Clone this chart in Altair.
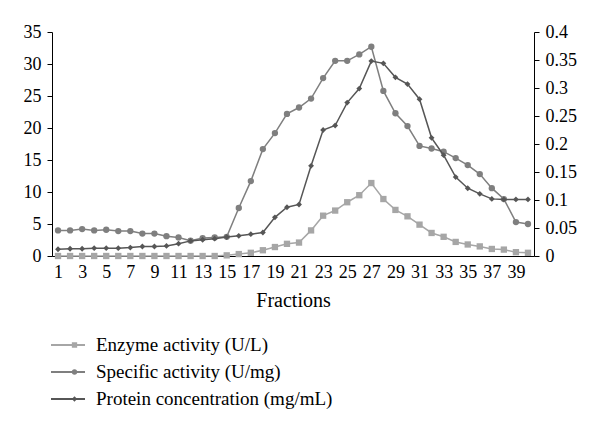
import altair as alt
import pandas as pd

fractions = list(range(1, 41))

enzyme_activity = [0.0, 0.0, 0.0, 0.0, 0.0, 0.0, 0.0, 0.0, 0.0, 0.0,
                   0.0, 0.0, 0.0, 0.0, 0.1, 0.3, 0.5, 0.9, 1.4, 1.9,
                   2.1, 4.0, 6.3, 7.1, 8.4, 9.5, 11.4, 8.9, 7.2, 6.2,
                   4.9, 3.6, 3.0, 2.2, 1.8, 1.5, 1.1, 1.0, 0.6, 0.5]

specific_activity = [4.0, 4.0, 4.2, 4.0, 4.1, 3.9, 3.9, 3.5, 3.5, 3.1,
                     2.9, 2.4, 2.8, 2.9, 3.0, 7.5, 11.7, 16.7, 19.2, 22.2,
                     23.2, 24.6, 27.8, 30.5, 30.5, 31.5, 32.7, 25.8, 22.3, 20.3,
                     17.2, 16.8, 16.3, 15.3, 14.2, 12.8, 10.6, 8.9, 5.3, 5.0]

protein_conc = [0.012, 0.013, 0.013, 0.014, 0.014, 0.014, 0.015, 0.017, 0.017, 0.018,
                0.022, 0.027, 0.029, 0.031, 0.034, 0.036, 0.039, 0.042, 0.069, 0.087,
                0.092, 0.161, 0.225, 0.233, 0.274, 0.299, 0.348, 0.344, 0.319, 0.307,
                0.280, 0.211, 0.180, 0.141, 0.121, 0.111, 0.102, 0.101, 0.101, 0.101]

series_names = ["Enzyme activity (U/L)", "Specific activity (U/mg)",
                "Protein concentration (mg/mL)"]
series_keys = ["a", "b", "c"]
series_colors = ["#a6a6a6", "#7f7f7f", "#565656"]
series_shapes = ["square", "circle", "diamond"]

x_labels = [1, 3, 5, 7, 9, 11, 13, 15, 17, 19, 21, 23, 25, 27, 29, 31, 33, 35, 37, 39]
left_ticks = [0, 5, 10, 15, 20, 25, 30, 35]
right_ticks = [0, 0.05, 0.1, 0.15, 0.2, 0.25, 0.3, 0.35, 0.4]

rows = []
for vals, name, key in zip([enzyme_activity, specific_activity, protein_conc],
                           series_names, series_keys):
    for f, v in zip(fractions, vals):
        rows.append({"frac": f, "series": name, "key": key, "value": v})
df = pd.DataFrame(rows)

FONT = "Liberation Serif"

x_enc = alt.X("frac:O", scale=alt.Scale(type="point", padding=0.5),
              axis=alt.Axis(values=x_labels, labelAngle=0, ticks=False,
                            labelPadding=7, titlePadding=9, title="Fractions"))

color_enc = alt.Color("series:N",
                      scale=alt.Scale(domain=series_names, range=series_colors),
                      legend=alt.Legend(title=None, orient="none", legendX=-2, legendY=304,
                                        symbolType="stroke", symbolSize=1156,
                                        symbolStrokeWidth=2, clipHeight=18, rowPadding=8,
                                        labelOffset=10, padding=0, labelLimit=500))
shape_legend = alt.Legend(title=None, orient="none", legendX=13, legendY=304,
                          symbolSize=28, clipHeight=18, rowPadding=8,
                          labelOpacity=0, padding=0, symbolStrokeWidth=0)
fill_enc = alt.Fill("key:N", scale=alt.Scale(domain=series_keys, range=series_colors),
                    legend=shape_legend)
shape_enc = alt.Shape("key:N", scale=alt.Scale(domain=series_keys, range=series_shapes),
                      legend=shape_legend)

y_left = alt.Y("value:Q", scale=alt.Scale(domain=[0, 35], nice=False),
               axis=alt.Axis(orient="left", values=left_ticks, title=None,
                             tickSize=5, labelPadding=6))
y_right = alt.Y("value:Q", scale=alt.Scale(domain=[0, 0.4], nice=False),
                axis=alt.Axis(orient="right", values=right_ticks, format="~g",
                              title=None, tickSize=5, labelPadding=6))

base_left = alt.Chart(df).transform_filter(alt.datum.key != "c")
base_right = alt.Chart(df).transform_filter(alt.datum.key == "c")

left = alt.layer(
    base_left.mark_line(strokeWidth=1.5).encode(x=x_enc, y=y_left, color=color_enc),
    base_left.mark_point(filled=True, size=40, opacity=1).encode(
        x=x_enc, y=y_left, fill=fill_enc, shape=shape_enc),
)
right = alt.layer(
    base_right.mark_line(strokeWidth=1.5).encode(x=x_enc, y=y_right, color=color_enc),
    base_right.mark_point(filled=True, size=34, opacity=1).encode(
        x=x_enc, y=y_right, fill=fill_enc, shape=shape_enc),
)

chart = alt.layer(left, right).resolve_scale(y="independent").properties(
    width=482, height=224,
    autosize=alt.AutoSizeParams(type="none"),
    padding={"left": 44, "top": 24, "right": 58, "bottom": 164},
).configure_view(stroke="transparent").configure_axis(
    grid=False, labelFont=FONT, labelFontSize=18, labelColor="black",
    titleFont=FONT, titleFontSize=20, titleFontWeight="normal", titleColor="black",
    domainColor="black", tickColor="black", domainWidth=1,
).configure_legend(
    labelFont=FONT, labelFontSize=19, labelColor="black",
)

chart.save("out.html", embed_options={"renderer": "svg", "actions": False})
